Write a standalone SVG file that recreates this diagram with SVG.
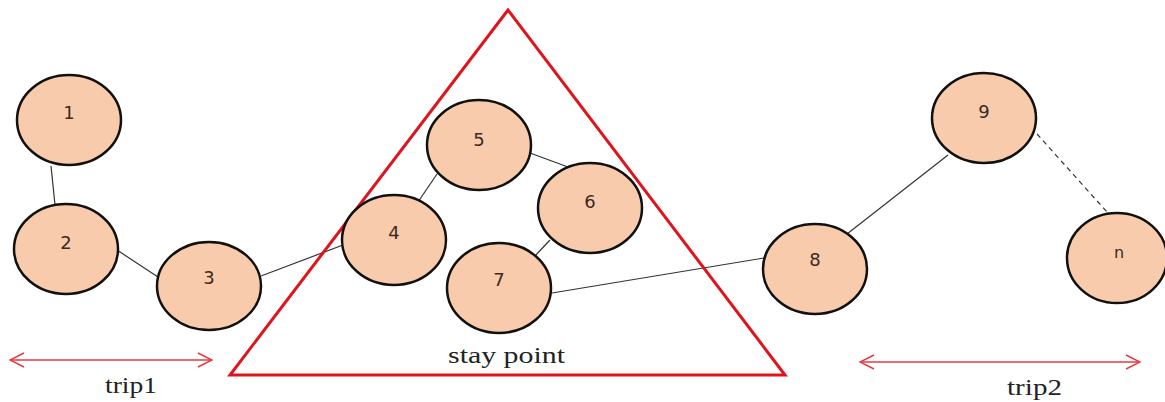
<svg xmlns="http://www.w3.org/2000/svg" width="1165" height="402" viewBox="0 0 1165 402">
<style>
.node ellipse{fill:#f8cbad;stroke:#111;stroke-width:2.5}
.node text{font-family:"DejaVu Sans",Verdana,sans-serif;font-size:18px;fill:#3a2a22;text-anchor:middle}
.edge{stroke:#333;stroke-width:1.2;fill:none}
.lbl{font-family:"Liberation Serif","Times New Roman",serif;font-size:24px;fill:#222}
.trip{stroke:#e33a40;stroke-width:1.5;fill:none}
</style>
<defs>
<marker id="ah" viewBox="0 0 16 16" refX="15" refY="8" markerWidth="16" markerHeight="16" markerUnits="userSpaceOnUse" orient="auto-start-reverse">
<path d="M1,1 L15,8 L1,15" fill="none" stroke="#e33a40" stroke-width="1.5"/>
</marker>
</defs>
<rect width="1165" height="402" fill="#fff"/>
<g id="connectors">
<line class="edge" x1="51" y1="166" x2="55" y2="205"/>
<line class="edge" x1="117" y1="250" x2="158" y2="277"/>
<line class="edge" x1="261" y1="276" x2="343" y2="245"/>
<line class="edge" x1="416" y1="205" x2="437" y2="174"/>
<line class="edge" x1="530" y1="153" x2="568" y2="167"/>
<line class="edge" x1="550" y1="240" x2="535" y2="256"/>
<line class="edge" x1="552" y1="293" x2="764" y2="258"/>
<line class="edge" x1="847" y1="234" x2="948" y2="155"/>
<line class="edge" x1="1037" y1="134" x2="1107" y2="212" stroke-dasharray="5,4"/>
</g>
<g id="stay-point">
<polygon points="508,10 230,375 785,375" fill="none" stroke="#e0141c" stroke-width="3"/>
<text class="lbl" x="448" y="363" textLength="117" lengthAdjust="spacingAndGlyphs">stay point</text>
</g>
<g id="node1" class="node"><ellipse cx="69" cy="120" rx="52" ry="45"/><text x="69" y="119">1</text></g>
<g id="node2" class="node"><ellipse cx="66" cy="249" rx="52" ry="45"/><text x="66" y="249">2</text></g>
<g id="node3" class="node"><ellipse cx="209" cy="286" rx="52" ry="44"/><text x="209" y="284">3</text></g>
<g id="node4" class="node"><ellipse cx="394" cy="240" rx="52" ry="45"/><text x="394" y="239">4</text></g>
<g id="node5" class="node"><ellipse cx="479" cy="145" rx="52" ry="45"/><text x="479" y="146">5</text></g>
<g id="node6" class="node"><ellipse cx="590" cy="208" rx="52" ry="45"/><text x="590" y="208">6</text></g>
<g id="node7" class="node"><ellipse cx="499" cy="288" rx="52" ry="45"/><text x="499" y="286">7</text></g>
<g id="node8" class="node"><ellipse cx="815" cy="269" rx="52" ry="45"/><text x="815" y="266">8</text></g>
<g id="node9" class="node"><ellipse cx="984" cy="118" rx="52" ry="45"/><text x="984" y="118">9</text></g>
<g id="noden" class="node"><ellipse cx="1117" cy="258" rx="50" ry="45"/><text x="1119" y="258" style="font-size:16px">n</text></g>
<g id="trip1">
<line class="trip" x1="10" y1="360" x2="212" y2="360" marker-start="url(#ah)" marker-end="url(#ah)"/>
<text class="lbl" x="105" y="393" textLength="52" lengthAdjust="spacingAndGlyphs">trip1</text>
</g>
<g id="trip2">
<line class="trip" x1="860" y1="362" x2="1140" y2="362" marker-start="url(#ah)" marker-end="url(#ah)"/>
<text class="lbl" x="1007" y="395" textLength="55" lengthAdjust="spacingAndGlyphs">trip2</text>
</g>
</svg>
